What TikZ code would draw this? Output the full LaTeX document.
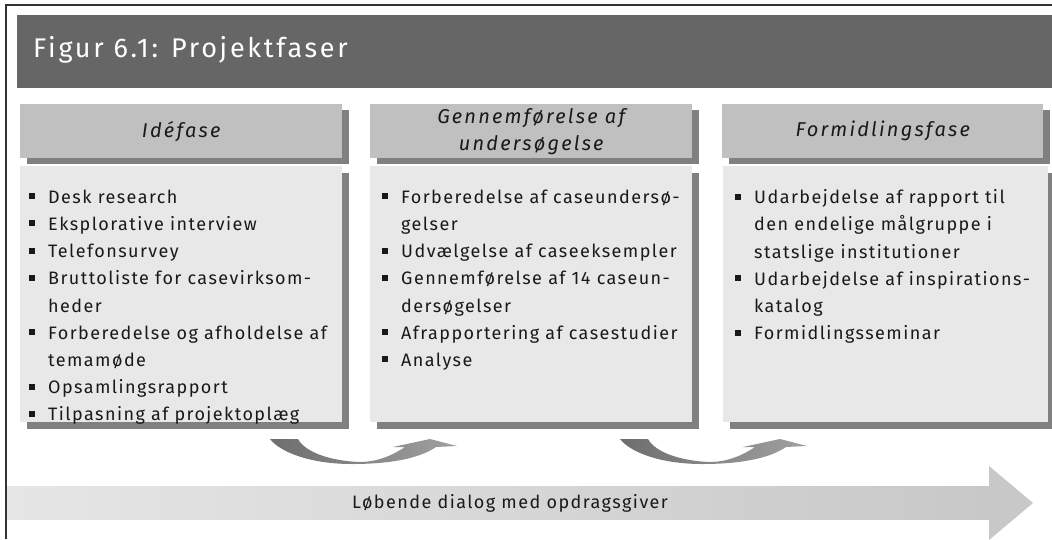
\documentclass[tikz,border=0pt]{standalone}
\usepackage{fontspec}
\setmainfont{Fira Sans}[LetterSpace=8]
\usetikzlibrary{shadows}

\definecolor{titelgraa}{HTML}{666666}
\definecolor{hovedgraa}{HTML}{C0C0C0}
\definecolor{feltgraa}{HTML}{E8E8E8}
\definecolor{skyggegraa}{HTML}{808080}
\definecolor{pilmoerk}{HTML}{6E6E6E}
\definecolor{pillys}{HTML}{A0A0A0}
\definecolor{baandlys}{HTML}{E6E6E6}
\definecolor{baandmoerk}{HTML}{C8C8C8}

\newcommand{\pkt}{\makebox[19pt][l]{\rule[4pt]{6pt}{6pt}}}
\newcommand{\ind}{\hspace*{19pt}}

\tikzset{
  titel/.style={anchor=base west, inner sep=0pt, text=white,
    font=\fontsize{27}{30}\selectfont\addfontfeature{LetterSpace=10}},
  hoved/.style={anchor=north west, fill=hovedgraa, minimum width=322pt, minimum height=54pt,
    inner sep=0pt, align=center, text=black!90,
    font=\fontsize{20}{27}\selectfont\itshape\addfontfeature{LetterSpace=11},
    drop shadow={shadow xshift=7pt, shadow yshift=-6pt, fill=skyggegraa, opacity=1}},
  felt/.style={anchor=north west, fill=feltgraa, minimum width=322pt, minimum height=256pt,
    inner sep=0pt,
    drop shadow={shadow xshift=7pt, shadow yshift=-7pt, fill=skyggegraa, opacity=1}},
  liste/.style={anchor=north west, inner sep=0pt, align=left, text=black!90,
    font=\fontsize{18}{27.2}\selectfont},
}

\begin{document}
\begin{tikzpicture}[x=1pt,y=-1pt]
\useasboundingbox (0,0) rectangle (1052,539);

% Ramme og titel
\draw[line width=1.3pt, black!80] (6,539) -- (6,5) -- (1052,5);
\fill[titelgraa] (17,15) rectangle (1052,88);
\node[titel] (titel) at (33,57) {Figur 6.1: Projektfaser};

% Idefase
\node[hoved] (ide) at (20,104) {Idéfase};
\node[felt] (idefelt) at (20,166) {};
\node[liste] (idelist) at ([xshift=9pt,yshift=-23.5pt]idefelt.north west)
{\pkt Desk research\\
\pkt Eksplorative interview\\
\pkt Telefonsurvey\\
\pkt Bruttoliste for casevirksom-\\
\ind heder\\
\pkt Forberedelse og afholdelse af\\
\ind temamøde\\
\pkt Opsamlingsrapport\\
\pkt Tilpasning af projektoplæg};

% Gennemfoerelse
\node[hoved] (gen) at (370,104) {Gennemførelse af\\undersøgelse};
\node[felt] (genfelt) at (370,166) {};
\node[liste] (genlist) at ([xshift=12pt,yshift=-23.5pt]genfelt.north west)
{\pkt Forberedelse af caseundersø-\\
\ind gelser\\
\pkt Udvælgelse af caseeksempler\\
\pkt Gennemførelse af 14 caseun-\\
\ind dersøgelser\\
\pkt Afrapportering af casestudier\\
\pkt Analyse};

% Formidlingsfase
\node[hoved, minimum width=321pt] (form) at (722,104) {Formidlingsfase};
\node[felt, minimum width=325pt] (formfelt) at (723,166) {};
\node[liste] (formlist) at ([xshift=12pt,yshift=-23.5pt]formfelt.north west)
{\pkt Udarbejdelse af rapport til\\
\ind den endelige målgruppe i\\
\ind statslige institutioner\\
\pkt Udarbejdelse af inspirations-\\
\ind katalog\\
\pkt Formidlingsseminar};

% Pile mellem faserne
\foreach \dx in {0,350}{
\begin{scope}[xshift=\dx pt]
\shade[left color=pilmoerk, right color=pillys]
(270,439) -- (298,439)
.. controls (305,452) and (330,461) .. (360,462)
.. controls (380,462) and (396,453) .. (405,447)
-- (393,447) -- (430,439) -- (457,446) -- (436,447)
.. controls (420,458) and (392,464) .. (352,464)
.. controls (310,464) and (280,452) .. (270,439) -- cycle;
\end{scope}
}

% Loebende dialog
\shade[left color=baandlys, right color=baandmoerk] (7,486) rectangle (989,519);
\fill[baandmoerk] (989,466) -- (1033,503) -- (989,540) -- cycle;
\node[text=black!90, font=\fontsize{18}{20}\selectfont] (dialog) at (510,503) {Løbende dialog med opdragsgiver};

\end{tikzpicture}
\end{document}
